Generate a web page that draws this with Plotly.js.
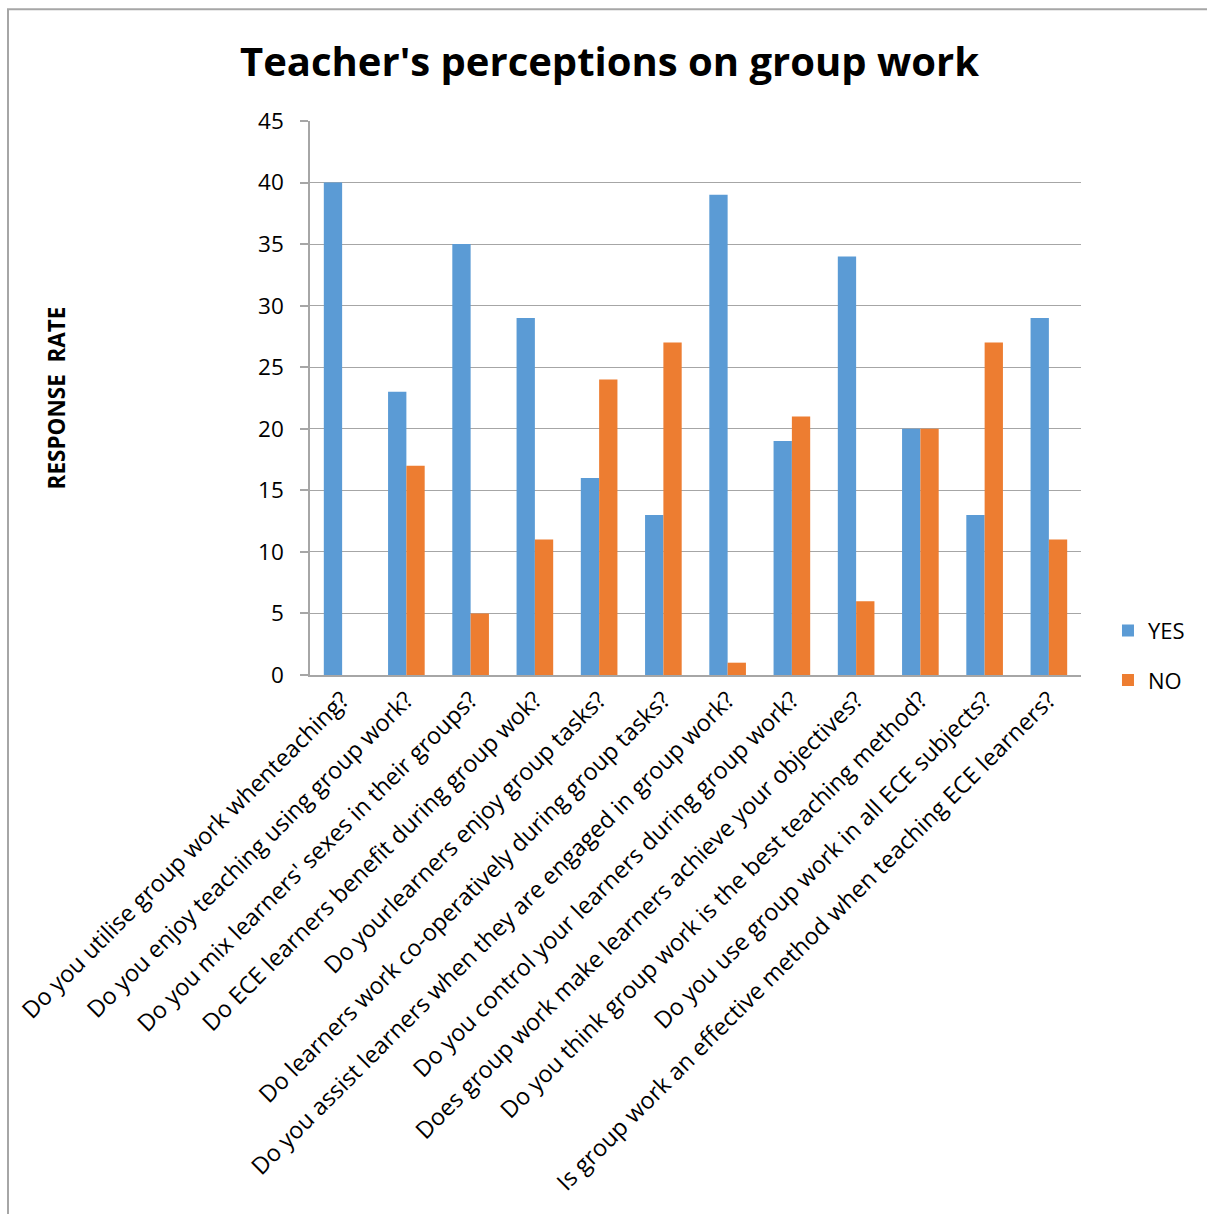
<!DOCTYPE html>
<html>
<head>
<meta charset="utf-8">
<script src="https://cdn.plot.ly/plotly-3.0.1.min.js"></script>
<style>
html,body{margin:0;padding:0;background:#fff;}
#chart{width:1207px;height:1214px;}
</style>
</head>
<body>
<div id="chart"></div>
<script>
const categories = [
  "Do you utilise group work whenteaching?",
  "Do you enjoy teaching using group work?",
  "Do you mix learners' sexes in their groups?",
  "Do ECE learners benefit during group wok?",
  "Do yourlearners enjoy group tasks?",
  "Do learners work co-operatively during group tasks?",
  "Do you assist learners when they are engaged in group work?",
  "Do you control your learners during group work?",
  "Does group work make learners achieve your objectives?",
  "Do you think group work is the best teaching method?",
  "Do you use group work in all ECE subjects?",
  "Is group work an effective method when teaching ECE learners?"
];
const yesValues = [40, 23, 35, 29, 16, 13, 39, 19, 34, 20, 13, 29];
const noValues  = [0, 17, 5, 11, 24, 27, 1, 21, 6, 20, 27, 11];
const yTicks = [0, 5, 10, 15, 20, 25, 30, 35, 40, 45];

const FONT = "Open Sans, Liberation Sans, sans-serif";

const traces = [
  {type: "bar", name: "YES", x: categories, y: yesValues, marker: {color: "#5B9BD5"}, legendgroup: "a"},
  {type: "bar", name: "NO", x: categories, y: noValues, marker: {color: "#ED7D31"}, legendgroup: "b"}
];

const layout = {
  width: 1207, height: 1214,
  paper_bgcolor: "#fff", plot_bgcolor: "#fff",
  margin: {l: 310, r: 126, t: 121, b: 539},
  font: {family: FONT, color: "#000"},
  title: {text: "<b>Teacher's perceptions on group work</b>", font: {size: 40, family: FONT, color: "#000"}, x: 0.505, xanchor: "center", y: 0.949, yanchor: "middle"},
  barmode: "group",
  bargap: 0.43,
  bargroupgap: 0,
  showlegend: true,
  legend: {x: 1.035, y: 0.118, xanchor: "left", yanchor: "top", font: {size: 22, family: FONT}, tracegroupgap: 18, traceorder: "grouped", itemwidth: 30},
  xaxis: {
    type: "category",
    tickangle: -45,
    tickfont: {size: 23.5, family: FONT, color: "#000"},
    showline: true, linecolor: "#A6A6A6", linewidth: 1.5,
    ticks: "", showgrid: false, automargin: false
  },
  yaxis: {
    range: [0, 45],
    tickvals: yTicks,
    tickfont: {size: 22.5, family: FONT, color: "#000"},
    ticklabelstandoff: 12,
    showline: true, linecolor: "#A6A6A6", linewidth: 1.5,
    ticks: "outside", ticklen: 8, tickcolor: "#A6A6A6", tickwidth: 1.5,
    gridcolor: "#A6A6A6", gridwidth: 1.2,
    zeroline: false, automargin: false,
    title: {text: "<b>RESPONSE  RATE</b>", font: {size: 22.5, family: FONT, color: "#000"}, standoff: 186}
  },
  shapes: [
    {type: "rect", xref: "paper", yref: "paper", x0: -0.3917, x1: 1.2, y0: -1.2, y1: 1.2016, line: {color: "#A6A6A6", width: 2}, fillcolor: "rgba(0,0,0,0)", layer: "below"}
  ]
};

Plotly.newPlot("chart", traces, layout, {displayModeBar: false});
</script>
</body>
</html>
